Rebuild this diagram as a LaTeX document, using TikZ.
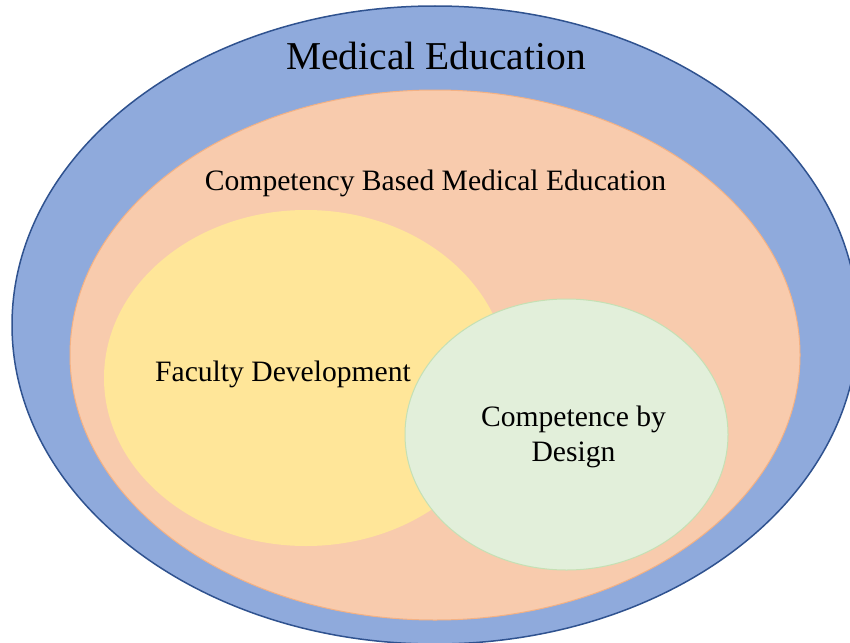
\documentclass[tikz,border=0pt]{standalone}
\usepackage{fontspec}
\setmainfont{Liberation Serif}
\usetikzlibrary{shapes.geometric}
\definecolor{meBlue}{HTML}{8FAADC}
\definecolor{meBlueLine}{HTML}{2F528F}
\definecolor{cbmeFill}{HTML}{F8CBAD}
\definecolor{cbmeLine}{HTML}{F4B183}
\definecolor{fdFill}{HTML}{FFE699}
\definecolor{cbdFill}{HTML}{E2EFDA}
\definecolor{cbdLine}{HTML}{C5E0B4}
\tikzset{
  blob/.style={ellipse, inner sep=0pt, outer sep=0pt},
  label/.style={font=\fontsize{29.6}{35}\selectfont, text=black, inner sep=0pt, align=center}
}
\begin{document}
\begin{tikzpicture}[x=1pt, y=-1pt]
  \useasboundingbox (0,0) rectangle (850,642);
  \begin{scope}
    \clip (0,0) rectangle (850,642);
    % nested sets
    \node[blob, fill=meBlue, draw=meBlueLine, line width=1.5pt,
          minimum width=846pt, minimum height=638pt] (med) at (435,325) {};
    \node[blob, fill=cbmeFill, draw=cbmeLine, line width=1pt,
          minimum width=730pt, minimum height=530pt] (cbme) at (435,355) {};
    \node[blob, fill=fdFill,
          minimum width=404pt, minimum height=336pt] (fd) at (306,378) {};
    \node[blob, fill=cbdFill, draw=cbdLine, line width=1pt,
          minimum width=323pt, minimum height=271pt] (cbd) at (566.5,434.5) {};
  \end{scope}
  % labels
  \node[label, font=\fontsize{39.5}{45}\selectfont] (medT) at (436,56) {Medical Education};
  \node[label] (cbmeT) at (435.5,183.5) {Competency Based Medical Education};
  \node[label] (fdT) at (283,374.5) {Faculty Development};
  \node[label] (cbdT) at (573.5,437) {Competence by\\Design};
\end{tikzpicture}
\end{document}
